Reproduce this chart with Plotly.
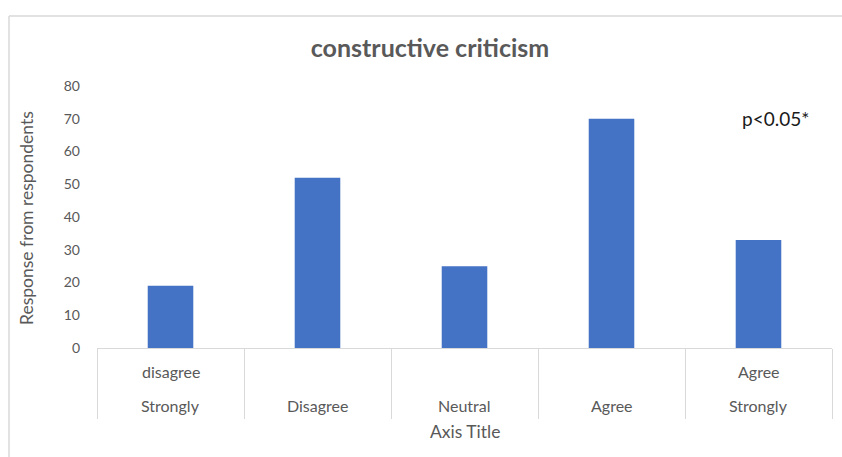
import plotly.graph_objects as go

categories = ["Strongly disagree", "Disagree", "Neutral", "Agree", "Strongly Agree"]
top_row = ["disagree", "", "", "", "Agree"]
bottom_row = ["Strongly", "Disagree", "Neutral", "Agree", "Strongly"]
values = [19, 52, 25, 70, 33]

FONT = "Lato"
GREY = "#595959"
L, R, T, B = 97, 10, 86, 109
PW, PH = 842 - L - R, 457 - T - B

fig = go.Figure()
fig.add_trace(go.Bar(
    x=categories, y=values,
    marker=dict(color="#4472C4", line=dict(width=0)),
    showlegend=False,
))

annotations = []
for cat, t, b in zip(categories, top_row, bottom_row):
    if t:
        annotations.append(dict(x=cat, y=-(371 - 348) / PH, xref="x", yref="paper", text=t,
                                showarrow=False, yanchor="middle",
                                font=dict(family=FONT, size=16, color=GREY)))
    annotations.append(dict(x=cat, y=-(405 - 348) / PH, xref="x", yref="paper", text=b,
                            showarrow=False, yanchor="middle",
                            font=dict(family=FONT, size=16, color=GREY)))

annotations.append(dict(x=0.5, y=-(432 - 348) / PH, xref="paper", yref="paper", text="Axis Title",
                        showarrow=False, yanchor="middle",
                        font=dict(family=FONT, size=17.5, color=GREY)))
annotations.append(dict(x=(740 - L) / PW, y=(348 - 118) / PH, xref="paper", yref="paper",
                        text="p&lt;0.05*", showarrow=False, xanchor="left", yanchor="middle",
                        font=dict(family=FONT, size=19, color="#1a1a1a")))
annotations.append(dict(x=(26 - L) / PW, y=(348 - 218) / PH, xref="paper", yref="paper",
                        text="Response from respondents", textangle=-90, showarrow=False,
                        xanchor="center", yanchor="middle",
                        font=dict(family=FONT, size=17.5, color=GREY)))

fig.update_layout(
    width=842, height=457,
    margin=dict(l=L, r=R, t=T, b=B, autoexpand=False),
    paper_bgcolor="white", plot_bgcolor="white",
    title=dict(text="<b>constructive criticism</b>", x=430 / 842, xref="container",
               y=1 - 48 / 457, yref="container", xanchor="center", yanchor="middle",
               font=dict(family=FONT, size=25, color=GREY)),
    bargap=0.69,
    xaxis=dict(
        type="category", showticklabels=False, tickson="boundaries", automargin=False,
        ticks="outside", ticklen=70, tickcolor="#d9d9d9", tickwidth=1,
        showline=True, linecolor="#d9d9d9", linewidth=1, showgrid=False, zeroline=False,
    ),
    yaxis=dict(
        range=[0, 80], dtick=10, showgrid=False, zeroline=False, showline=False,
        automargin=False, ticklabelstandoff=16,
        tickfont=dict(family=FONT, size=14, color=GREY),
    ),
    annotations=annotations,
    shapes=[
        dict(type="line", xref="paper", yref="paper", x0=(9 - L) / PW, x1=(9 - L) / PW,
             y0=(348 - 16) / PH, y1=-(457 - 348) / PH, line=dict(color="#d9d9d9", width=1.5)),
        dict(type="line", xref="paper", yref="paper", x0=(9 - L) / PW, x1=(842 - L) / PW,
             y0=(348 - 16) / PH, y1=(348 - 16) / PH, line=dict(color="#d9d9d9", width=1.5)),
    ],
)

fig.write_html("out.html", config={"displayModeBar": False},
               post_script="document.body.style.margin='0';document.body.style.overflow='hidden';")
